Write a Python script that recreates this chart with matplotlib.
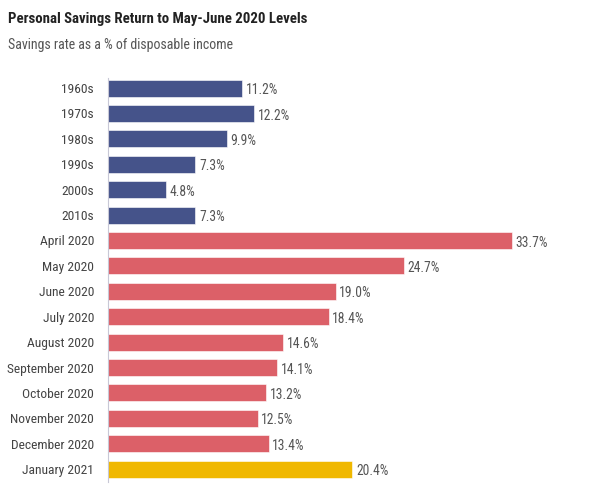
import matplotlib.pyplot as plt

plt.rcParams['font.family'] = ['Roboto Condensed', 'DejaVu Sans']

labels = ['1960s', '1970s', '1980s', '1990s', '2000s', '2010s',
          'April 2020', 'May 2020', 'June 2020', 'July 2020', 'August 2020',
          'September 2020', 'October 2020', 'November 2020', 'December 2020',
          'January 2021']
values = [11.2, 12.2, 9.9, 7.3, 4.8, 7.3, 33.7, 24.7, 19.0, 18.4, 14.6,
          14.1, 13.2, 12.5, 13.4, 20.4]
groups = ['decade'] * 6 + ['2020'] * 9 + ['2021']
palette = {'decade': '#45538a', '2020': '#dc6068', '2021': '#f0b800'}

fig = plt.figure(figsize=(6, 4.98), dpi=100)
ax = fig.add_axes([0.18, 0.032, 0.755, 0.811])

ypos = list(range(len(labels)))
colors = [palette[g] for g in groups]
ax.barh(ypos, values, height=0.67, color=colors, edgecolor='white', linewidth=0.4)

for y, v in zip(ypos, values):
    ax.text(v + 0.3, y + 0.08, f'{v:.1f}%', va='center', ha='left',
            fontsize=9.8, color='#555555')

ax.set_yticks(ypos)
ax.set_yticklabels(labels, fontsize=9.7, color='#444444')
ax.tick_params(axis='y', length=0, pad=10)
ax.set_xticks([])
ax.set_xlim(0, 37.8)
ax.set_ylim(15.51, -0.39)
for s in ['top', 'right', 'bottom']:
    ax.spines[s].set_visible(False)
ax.spines['left'].set_color('#c8c8d6')
ax.spines['left'].set_linewidth(0.8)

fig.text(0.013, 0.962, 'Personal Savings Return to May-June 2020 Levels',
         fontsize=10.75, fontweight='bold', color='#222222', va='center')
fig.text(0.013, 0.91, 'Savings rate as a % of disposable income',
         fontsize=10, color='#555555', va='center')

fig.savefig('out.png', dpi=100, facecolor='white')
